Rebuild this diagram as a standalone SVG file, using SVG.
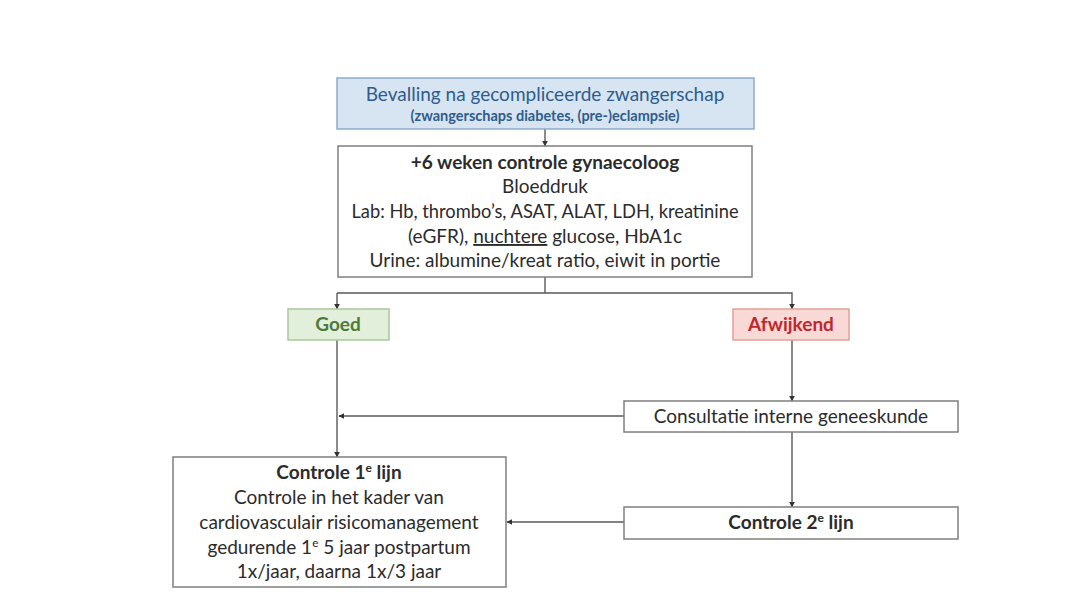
<svg xmlns="http://www.w3.org/2000/svg" width="1086" height="613" viewBox="0 0 1086 613">
<style>
.box{fill:#fff;stroke:#7f7f7f;stroke-width:1.5}
.t{font-family:Lato,"Liberation Sans",Arial,sans-serif;font-size:19px;fill:#2b2b2b;text-anchor:middle}
.b{font-weight:bold}
.conn{fill:none;stroke:#595959;stroke-width:1.4}
</style>
<defs>
<marker id="ah" viewBox="0 0 10 10" refX="9" refY="5" markerWidth="6" markerHeight="6" orient="auto" markerUnits="userSpaceOnUse">
<path d="M0,0 L10,5 L0,10 z" fill="#333"/>
</marker>
</defs>
<rect width="1086" height="613" fill="#fff"/>
<g id="connectors">
<line class="conn" x1="545" y1="129" x2="545" y2="146" marker-end="url(#ah)"/>
<polyline class="conn" points="545,277 545,293"/>
<polyline class="conn" points="337,293 792,293 792,309" marker-end="url(#ah)"/>
<line class="conn" x1="337" y1="293" x2="337" y2="309" marker-end="url(#ah)"/>
<line class="conn" x1="337" y1="340" x2="337" y2="457" marker-end="url(#ah)"/>
<line class="conn" x1="792" y1="340" x2="792" y2="401" marker-end="url(#ah)"/>
<line class="conn" x1="624" y1="416" x2="339" y2="416" marker-end="url(#ah)"/>
<line class="conn" x1="792" y1="432" x2="792" y2="507" marker-end="url(#ah)"/>
<line class="conn" x1="624" y1="522" x2="507" y2="522" marker-end="url(#ah)"/>
</g>
<g id="start">
<rect x="337" y="78" width="417" height="51" fill="#d7e5f3" stroke="#8faacc" stroke-width="1.5"/>
<text class="t" x="545" y="101" style="fill:#2f5c8c">Bevalling na gecompliceerde zwangerschap</text>
<text class="t b" x="545" y="121" style="font-size:14.5px;fill:#2f5c8c">(zwangerschaps diabetes, (pre-)eclampsie)</text>
</g>
<g id="controle6w">
<rect class="box" x="338" y="146" width="414" height="131"/>
<text class="t b" x="545" y="169">+6 weken controle gynaecoloog</text>
<text class="t" x="545" y="193">Bloeddruk</text>
<text class="t" x="545" y="218" style="font-size:18.3px">Lab: Hb, thrombo’s, ASAT, ALAT, LDH, kreatinine</text>
<text class="t" x="545" y="243">(eGFR), <tspan text-decoration="underline">nuchtere</tspan> glucose, HbA1c</text>
<text class="t" x="545" y="267">Urine: albumine/kreat ratio, eiwit in portie</text>
</g>
<g id="goed">
<rect x="288" y="309" width="101" height="31" fill="#e2efda" stroke="#a9c79a" stroke-width="1.5"/>
<text class="t b" x="338" y="331" style="fill:#4e7a3a">Goed</text>
</g>
<g id="afwijkend">
<rect x="733" y="309" width="116" height="31" fill="#f9d9d5" stroke="#e3a09a" stroke-width="1.5"/>
<text class="t b" x="791" y="331" style="fill:#c0272d">Afwijkend</text>
</g>
<g id="consultatie">
<rect class="box" x="624" y="401" width="334" height="31"/>
<text class="t" x="791" y="423">Consultatie interne geneeskunde</text>
</g>
<g id="controle1">
<rect class="box" x="173" y="457" width="333" height="130"/>
<text class="t b" x="339" y="479">Controle 1<tspan font-size="12" baseline-shift="super">e</tspan> lijn</text>
<text class="t" x="339" y="504">Controle in het kader van</text>
<text class="t" x="339" y="529">cardiovasculair risicomanagement</text>
<text class="t" x="339" y="554">gedurende 1<tspan font-size="12" baseline-shift="super">e</tspan> 5 jaar postpartum</text>
<text class="t" x="339" y="578">1x/jaar, daarna 1x/3 jaar</text>
</g>
<g id="controle2">
<rect class="box" x="624" y="507" width="334" height="32"/>
<text class="t b" x="791" y="529">Controle 2<tspan font-size="12" baseline-shift="super">e</tspan> lijn</text>
</g>
</svg>
